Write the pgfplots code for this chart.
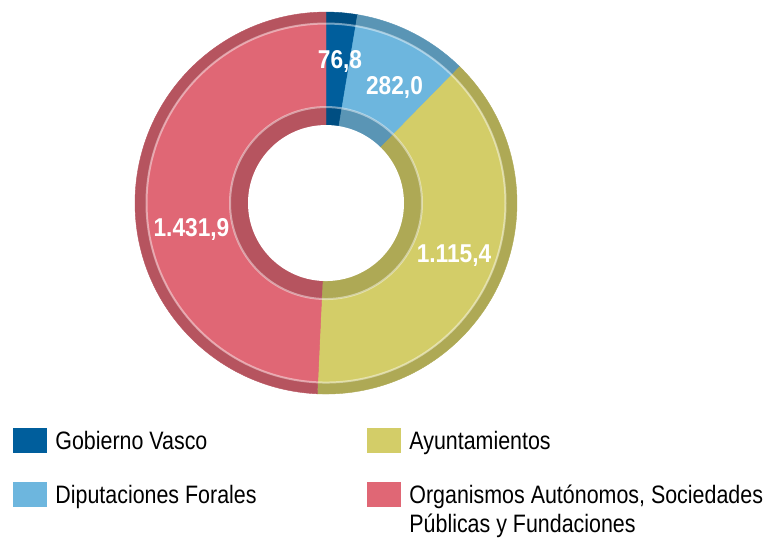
\documentclass[border=0pt]{standalone}
\usepackage{pgfplots}
\pgfplotsset{compat=1.18}
\usepackage{pgfplotstable}
\usepackage{fontspec}
\setmainfont{Liberation Sans}[FakeStretch=0.85]
\newfontfamily\labelfont{Liberation Sans}[FakeStretch=0.88]

\definecolor{face0}{HTML}{005E9C}
\definecolor{dark0}{HTML}{004E82}
\definecolor{face1}{HTML}{6DB6DE}
\definecolor{dark1}{HTML}{5A95B5}
\definecolor{face2}{HTML}{D3CD68}
\definecolor{dark2}{HTML}{AEA955}
\definecolor{face3}{HTML}{E06775}
\definecolor{dark3}{HTML}{B6545F}

% value, printed label, label position (pixels)
\pgfplotstableread{
value label lx ly
76.8 76,8 340 61
282.0 282,0 394.5 87.5
1115.4 1.115,4 454 255.5
1431.9 1.431,9 191.5 229.5
}\datatable

\begin{document}
\begin{tikzpicture}
\def\total{0}
\pgfplotsforeachungrouped \i in {0,...,3}{%
  \pgfplotstablegetelem{\i}{value}\of\datatable
  \pgfmathsetmacro\total{\total+\pgfplotsretval}%
}
\def\cur{90}
\pgfplotsforeachungrouped \i in {0,...,3}{%
  \pgfplotstablegetelem{\i}{value}\of\datatable
  \expandafter\xdef\csname sa\i\endcsname{\cur}%
  \pgfmathsetmacro\cur{\cur-360*(\pgfplotsretval/\total)}%
  \expandafter\xdef\csname ea\i\endcsname{\cur}%
  \pgfplotstablegetelem{\i}{label}\of\datatable
  \expandafter\xdef\csname lb\i\endcsname{\pgfplotsretval}%
  \pgfplotstablegetelem{\i}{lx}\of\datatable
  \expandafter\xdef\csname lx\i\endcsname{\pgfplotsretval}%
  \pgfplotstablegetelem{\i}{ly}\of\datatable
  \expandafter\xdef\csname ly\i\endcsname{\pgfplotsretval}%
}
\begin{axis}[width=383.5pt, height=270.5pt, scale only axis,
  xmin=0, xmax=767, ymin=-541, ymax=0, hide axis, clip=false]
% outer darker band
\pgfplotsinvokeforeach{0,...,3}{%
  \fill[dark#1, draw=dark#1, line width=0.2pt] (axis cs:326,-203) -- ++(\csname sa#1\endcsname:95.5pt)
    arc[start angle=\csname sa#1\endcsname, end angle=\csname ea#1\endcsname, radius=95.5pt] -- cycle;
}
% main face
\pgfplotsinvokeforeach{0,...,3}{%
  \fill[face#1, draw=face#1, line width=0.2pt] (axis cs:326,-203) -- ++(\csname sa#1\endcsname:89.75pt)
    arc[start angle=\csname sa#1\endcsname, end angle=\csname ea#1\endcsname, radius=89.75pt] -- cycle;
}
% inner darker band
\pgfplotsinvokeforeach{0,...,3}{%
  \fill[dark#1, draw=dark#1, line width=0.2pt] (axis cs:326,-203) -- ++(\csname sa#1\endcsname:48pt)
    arc[start angle=\csname sa#1\endcsname, end angle=\csname ea#1\endcsname, radius=48pt] -- cycle;
}
\draw[white, opacity=0.45, line width=1pt] (axis cs:326,-203) circle[radius=89.75pt];
\draw[white, opacity=0.45, line width=1pt] (axis cs:326,-203) circle[radius=48pt];
\fill[white] (axis cs:326,-203) circle[radius=39pt];
% value labels
\pgfplotsinvokeforeach{0,...,3}{%
  \node[text=white, font=\labelfont\bfseries\fontsize{12.9}{14}\selectfont, inner sep=0pt]
    at (axis cs:\csname lx#1\endcsname,-\csname ly#1\endcsname) {\csname lb#1\endcsname};
}
% legend
\fill[face0] (axis cs:13,-428) rectangle (axis cs:47,-453);
\fill[face1] (axis cs:13,-482) rectangle (axis cs:47,-507);
\fill[face2] (axis cs:367,-428) rectangle (axis cs:401,-453);
\fill[face3] (axis cs:367,-482) rectangle (axis cs:401,-507);
\begin{scope}[every node/.style={anchor=base west, inner sep=0pt, font=\fontsize{12.6}{14}\selectfont}]
\node at (axis cs:55,-449) {Gobierno Vasco};
\node at (axis cs:55,-503) {Diputaciones Forales};
\node at (axis cs:409,-449) {Ayuntamientos};
\node at (axis cs:409,-503) {Organismos Autónomos, Sociedades};
\node at (axis cs:409,-532) {Públicas y Fundaciones};
\end{scope}
\end{axis}
\pgfresetboundingbox
\useasboundingbox (current axis.south west) rectangle (current axis.north east);
\end{tikzpicture}
\end{document}
